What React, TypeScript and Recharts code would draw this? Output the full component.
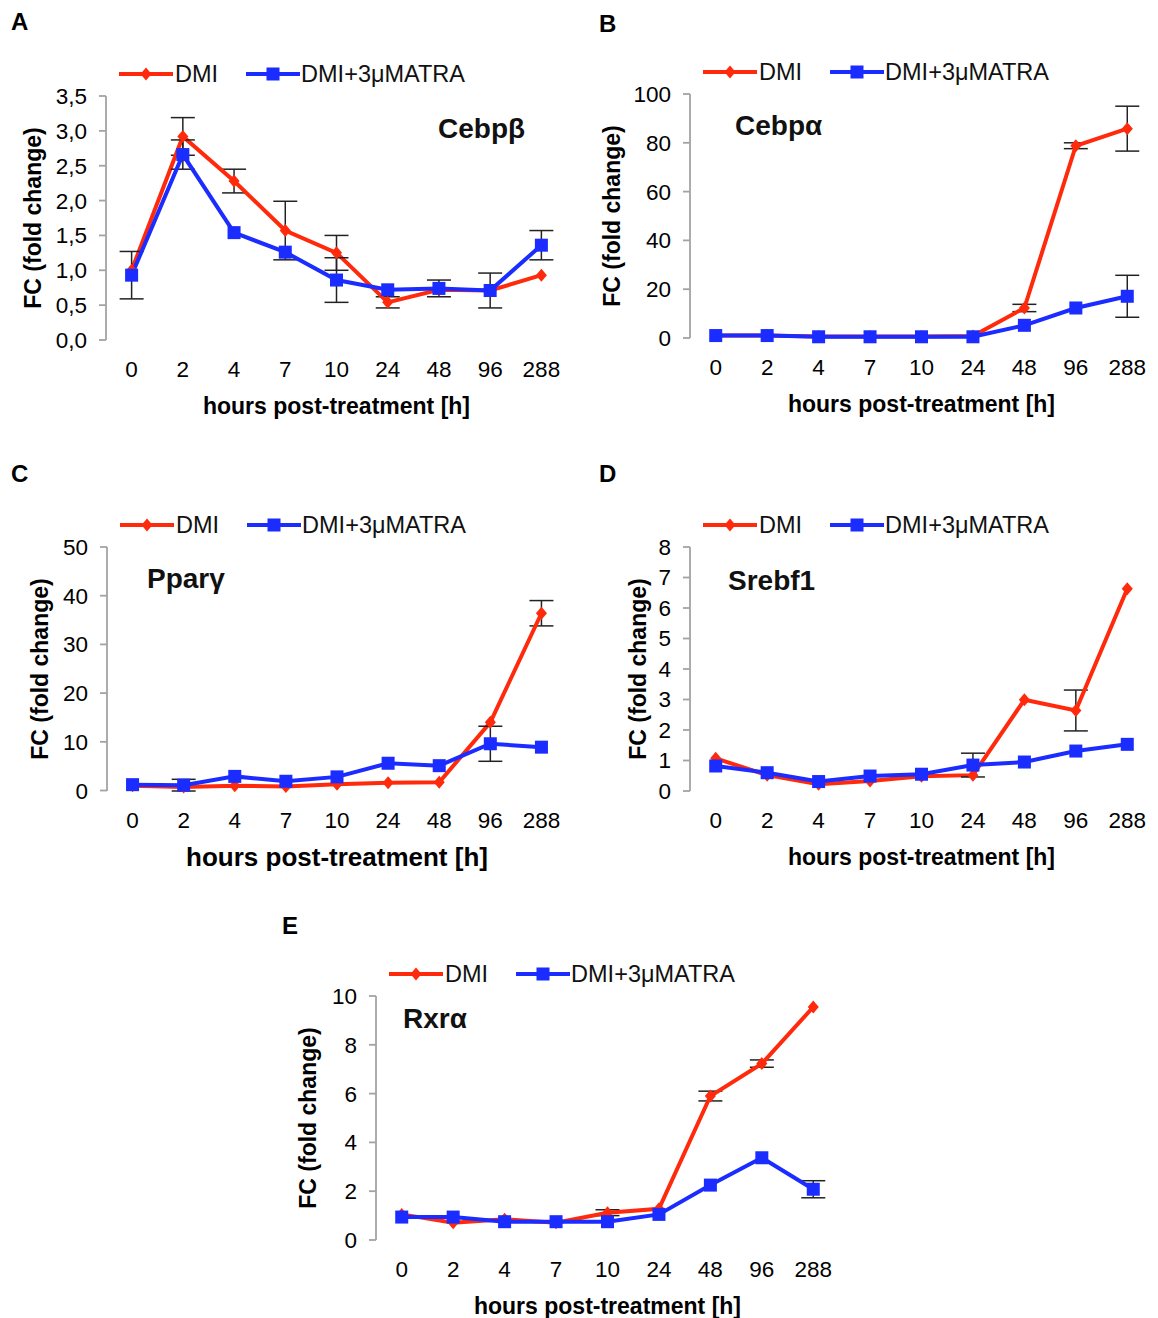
import React from 'react';
import { LineChart, Line, XAxis, YAxis, ErrorBar, Legend } from 'recharts';

const FONT = '"Liberation Sans", Arial, Helvetica, sans-serif';
const RED = '#ff2a0c';
const BLUE = '#1a2cff';
const AXIS = '#a3a3a3';
const ERR = '#222222';

// ---- data ----
const hours = ['0', '2', '4', '7', '10', '24', '48', '96', '288'];
const seriesNames = ['DMI', 'DMI+3μMATRA'];

const cebpbDMI = [1.0, 2.92, 2.28, 1.57, 1.25, 0.54, 0.72, 0.71, 0.93];
const cebpbATRA = [0.93, 2.66, 1.54, 1.26, 0.86, 0.72, 0.74, 0.71, 1.36];
const cebpbDMIErr = [0, 0.27, 0.17, 0.42, 0.25, 0.08, 0, 0, 0];
const cebpbATRAErr = [0.34, 0.21, 0, 0, 0.32, 0, 0.12, 0.25, 0.21];
const cebpbTicks = [0, 0.5, 1, 1.5, 2, 2.5, 3, 3.5];

const cebpaDMI = [1.0, 1.0, 0.6, 0.6, 0.6, 0.8, 12.3, 78.8, 85.8];
const cebpaATRA = [1.0, 1.0, 0.5, 0.5, 0.5, 0.5, 5.2, 12.3, 17.1];
const cebpaDMIErr = [0, 0, 0, 0, 0, 0, 1.5, 1.2, 9.2];
const cebpaATRAErr = [0, 0, 0, 0, 0, 0, 0, 0, 8.6];
const cebpaTicks = [0, 20, 40, 60, 80, 100];

const ppargDMI = [1.0, 0.7, 1.0, 0.8, 1.3, 1.6, 1.7, 14.0, 36.4];
const ppargATRA = [1.2, 1.1, 2.9, 1.9, 2.8, 5.6, 5.1, 9.6, 8.9];
const ppargDMIErr = [0, 0, 0, 0, 0, 0, 0, 0, 2.6];
const ppargATRAErr = [0, 1.2, 0, 0, 0, 0, 0, 3.6, 0];
const ppargTicks = [0, 10, 20, 30, 40, 50];

const srebf1DMI = [1.07, 0.52, 0.22, 0.33, 0.48, 0.52, 2.99, 2.64, 6.63];
const srebf1ATRA = [0.82, 0.6, 0.31, 0.49, 0.55, 0.85, 0.95, 1.31, 1.53];
const srebf1DMIErr = [0, 0, 0, 0, 0, 0, 0, 0.67, 0];
const srebf1ATRAErr = [0, 0, 0, 0, 0, 0.39, 0, 0, 0];
const srebf1Ticks = [0, 1, 2, 3, 4, 5, 6, 7, 8];

const rxraDMI = [1.05, 0.71, 0.85, 0.71, 1.12, 1.28, 5.9, 7.23, 9.55];
const rxraATRA = [0.94, 0.94, 0.75, 0.75, 0.75, 1.05, 2.25, 3.37, 2.08];
const rxraDMIErr = [0, 0, 0, 0, 0.12, 0, 0.2, 0.15, 0];
const rxraATRAErr = [0, 0, 0, 0, 0, 0, 0, 0, 0.35];
const rxraTicks = [0, 2, 4, 6, 8, 10];

const labelTicks = hours.map((_, i) => i);
const boundaryTicks = [...hours.map((_, i) => i - 0.5), hours.length - 0.5];

const buildRows = (dmi: number[], atra: number[], dmiErr: number[], atraErr: number[]) =>
  hours.map((h, i) => ({ i, h, dmi: dmi[i], atra: atra[i], dmiErr: dmiErr[i], atraErr: atraErr[i] }));

// ---- layout (page coords) ----
type PanelCfg = {
  letter: string;
  gene: string;
  rows: any[];
  yTicks: number[];
  comma?: boolean;
  cx: number; cy: number;
  top: number; yw: number; right: number; bottom: number;
  yLabelDx: number;
  xLabelSize: number;
  letterPos: [number, number];
  genePos: [number, number];
};

const W = 580;
const H = 420;

const panels: PanelCfg[] = [
  {
    letter: 'A', gene: 'Cebpβ', rows: buildRows(cebpbDMI, cebpbATRA, cebpbDMIErr, cebpbATRAErr),
    yTicks: cebpbTicks, comma: true, cx: 0, cy: 40, top: 56, yw: 106, right: 13, bottom: 30,
    yLabelDx: -73, xLabelSize: 23, letterPos: [11, 9], genePos: [438, 112],
  },
  {
    letter: 'B', gene: 'Cebpα', rows: buildRows(cebpaDMI, cebpaATRA, cebpaDMIErr, cebpaATRAErr),
    yTicks: cebpaTicks, cx: 580, cy: 40, top: 54, yw: 110, right: 7, bottom: 32,
    yLabelDx: -78, xLabelSize: 23, letterPos: [599, 11], genePos: [735, 109],
  },
  {
    letter: 'C', gene: 'Pparγ', rows: buildRows(ppargDMI, ppargATRA, ppargDMIErr, ppargATRAErr),
    yTicks: ppargTicks, cx: 0, cy: 490, top: 57, yw: 107, right: 13, bottom: 29,
    yLabelDx: -67, xLabelSize: 26, letterPos: [11, 461], genePos: [147, 562],
  },
  {
    letter: 'D', gene: 'Srebf1', rows: buildRows(srebf1DMI, srebf1ATRA, srebf1DMIErr, srebf1ATRAErr),
    yTicks: srebf1Ticks, cx: 580, cy: 490, top: 57, yw: 110, right: 7, bottom: 29,
    yLabelDx: -52, xLabelSize: 23, letterPos: [599, 461], genePos: [728, 564],
  },
  {
    letter: 'E', gene: 'Rxrα', rows: buildRows(rxraDMI, rxraATRA, rxraDMIErr, rxraATRAErr),
    yTicks: rxraTicks, cx: 270, cy: 940, top: 56, yw: 106, right: 11, bottom: 30,
    yLabelDx: -68, xLabelSize: 23, letterPos: [282, 913], genePos: [403, 1002],
  },
];

const diamondPath = (cx: number, cy: number, r = 6.5) =>
  `M${cx},${cy - r}L${cx + r * 0.85},${cy}L${cx},${cy + r}L${cx - r * 0.85},${cy}Z`;

const DiamondDot = (props: any) => {
  const { cx, cy, index } = props;
  if (cx == null || cy == null) return <g key={`d${index}`} />;
  return <path key={`d${index}`} d={diamondPath(cx, cy)} fill={RED} />;
};

const SquareDot = (props: any) => {
  const { cx, cy, index } = props;
  if (cx == null || cy == null) return <g key={`s${index}`} />;
  return <rect key={`s${index}`} x={cx - 6.5} y={cy - 6.5} width={13} height={13} fill={BLUE} />;
};

const LegendContent = () => (
  <div
    style={{
      display: 'flex', alignItems: 'center', fontFamily: FONT, fontSize: 23.5,
      whiteSpace: 'nowrap', lineHeight: '26px', color: '#111',
    }}
  >
    <svg width={54} height={20} style={{ display: 'block' }}>
      <line x1={0} y1={10} x2={54} y2={10} stroke={RED} strokeWidth={4} />
      <path d={diamondPath(27, 10)} fill={RED} />
    </svg>
    <span style={{ marginLeft: 2 }}>{seriesNames[0]}</span>
    <svg width={54} height={20} style={{ display: 'block', marginLeft: 28 }}>
      <line x1={0} y1={10} x2={54} y2={10} stroke={BLUE} strokeWidth={4} />
      <rect x={20.5} y={3.5} width={13} height={13} fill={BLUE} />
    </svg>
    <span style={{ marginLeft: 1 }}>{seriesNames[1]}</span>
  </div>
);

const tickStyle = { fill: '#000', fontSize: 22.5, fontFamily: FONT };

const Panel = ({ p }: { p: PanelCfg }) => {
  const fmt = (v: number) => (p.comma ? v.toFixed(1).replace('.', ',') : String(v));
  const yMax = p.yTicks[p.yTicks.length - 1];
  return (
    <div style={{ position: 'absolute', left: p.cx, top: p.cy, width: W, height: H }}>
      <LineChart
        width={W}
        height={H}
        data={p.rows}
        margin={{ top: p.top, right: p.right, left: 0, bottom: p.bottom }}
      >
        <XAxis
          xAxisId="a"
          dataKey="i"
          type="number"
          domain={[-0.5, hours.length - 0.5]}
          ticks={boundaryTicks}
          interval={0}
          height={0}
          tickSize={8}
          tickFormatter={() => ''}
          axisLine={{ stroke: AXIS, strokeWidth: 1.8 }}
          tickLine={{ stroke: AXIS, strokeWidth: 1.8 }}
        />
        <XAxis
          xAxisId="b"
          dataKey="i"
          type="number"
          domain={[-0.5, hours.length - 0.5]}
          ticks={labelTicks}
          interval={0}
          height={90}
          tickSize={6}
          tickMargin={15}
          axisLine={false}
          tickLine={false}
          tick={tickStyle}
          tickFormatter={(v: number) => hours[v] ?? ''}
          label={{
            content: (lp: any) => {
              const vb = lp.viewBox || {};
              return (
                <text
                  x={vb.x + vb.width / 2}
                  y={vb.y + 66}
                  textAnchor="middle"
                  dominantBaseline="central"
                  fill="#000"
                  style={{ fontFamily: FONT, fontWeight: 700, fontSize: p.xLabelSize }}
                >
                  hours post-treatment [h]
                </text>
              );
            },
          }}
        />
        <YAxis
          type="number"
          width={p.yw}
          domain={[0, yMax]}
          ticks={p.yTicks}
          interval={0}
          tickSize={7}
          tickMargin={12}
          tick={tickStyle}
          tickFormatter={fmt}
          axisLine={{ stroke: AXIS, strokeWidth: 1.8 }}
          tickLine={{ stroke: AXIS, strokeWidth: 1.8 }}
          label={{
            content: (lp: any) => {
              const vb = lp.viewBox || {};
              const x = vb.x + vb.width + p.yLabelDx;
              const y = vb.y + vb.height / 2;
              return (
                <text
                  x={x}
                  y={y}
                  transform={`rotate(-90 ${x} ${y})`}
                  textAnchor="middle"
                  dominantBaseline="central"
                  fill="#000"
                  style={{ fontFamily: FONT, fontWeight: 700, fontSize: 23 }}
                >
                  FC (fold change)
                </text>
              );
            },
          }}
        />
        <Legend
          layout="vertical"
          align="center"
          verticalAlign="middle"
          content={LegendContent}
          wrapperStyle={{ left: p.yw + 13, top: p.top - 35, width: 'auto' }}
        />
        <Line
          xAxisId="b"
          dataKey="dmi"
          name={seriesNames[0]}
          stroke={RED}
          strokeWidth={4}
          dot={DiamondDot}
          activeDot={false}
          isAnimationActive={false}
        >
          <ErrorBar dataKey="dmiErr" width={12} stroke={ERR} strokeWidth={1.5} direction="y" />
        </Line>
        <Line
          xAxisId="b"
          dataKey="atra"
          name={seriesNames[1]}
          stroke={BLUE}
          strokeWidth={4}
          dot={SquareDot}
          activeDot={false}
          isAnimationActive={false}
        >
          <ErrorBar dataKey="atraErr" width={12} stroke={ERR} strokeWidth={1.5} direction="y" />
        </Line>
      </LineChart>
    </div>
  );
};

export default function App() {
  return (
    <div
      style={{
        position: 'absolute', left: 0, top: 0, width: 1158, height: 1318,
        background: '#fff', fontFamily: FONT, overflow: 'hidden',
      }}
    >
      {panels.map((p) => (
        <React.Fragment key={p.letter}>
          <Panel p={p} />
          <div
            style={{
              position: 'absolute', left: p.letterPos[0], top: p.letterPos[1],
              fontWeight: 700, fontSize: 24, lineHeight: '26px', color: '#000',
            }}
          >
            {p.letter}
          </div>
          <div
            style={{
              position: 'absolute', left: p.genePos[0], top: p.genePos[1],
              fontWeight: 700, fontSize: 28, lineHeight: '34px', color: '#111',
            }}
          >
            {p.gene}
          </div>
        </React.Fragment>
      ))}
    </div>
  );
}
